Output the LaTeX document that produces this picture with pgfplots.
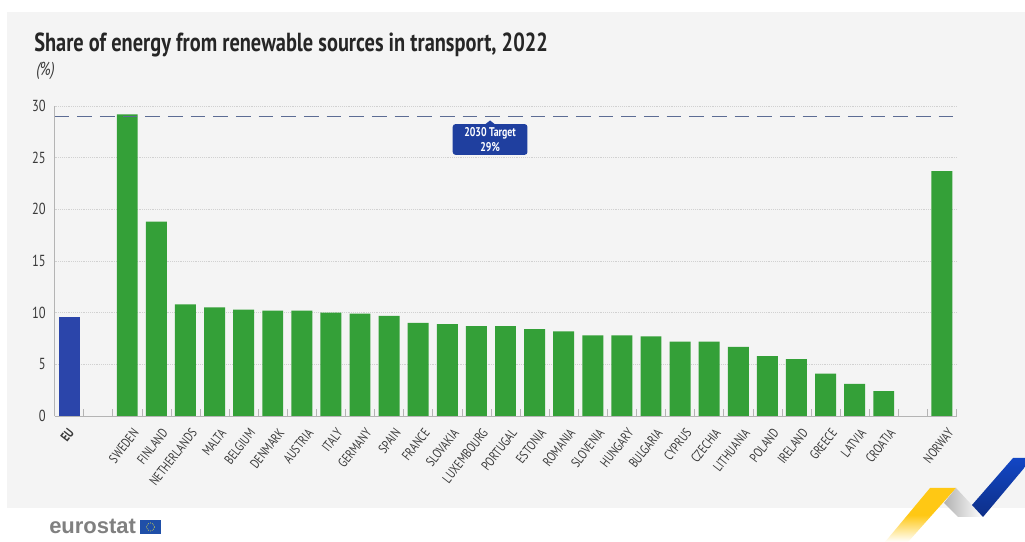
\documentclass[border=0pt]{standalone}
\usepackage{fontspec}
\setmainfont[FakeStretch=0.78]{PT Sans}
\newfontfamily\logofont{Liberation Sans}
\usepackage{pgfplots}
\pgfplotsset{compat=1.18}
\usetikzlibrary{calc}
\definecolor{panel}{HTML}{F4F4F4}
\definecolor{bargreen}{HTML}{34A038}
\definecolor{barblue}{HTML}{2B45AA}
\definecolor{calloutblue}{HTML}{1F3F9F}
\definecolor{targetline}{HTML}{5C6C94}
\definecolor{txt}{HTML}{3A3A3A}
\definecolor{axisgrey}{HTML}{B4B4B4}
\definecolor{ribyellow}{HTML}{FFC814}
\definecolor{ribbright}{HTML}{1246C4}
\definecolor{ribdark}{HTML}{0E2F88}
\definecolor{flagblue}{HTML}{1F4FA8}

\pgfplotstableread{
x v
2 29.2
3 18.8
4 10.8
5 10.5
6 10.3
7 10.2
8 10.2
9 10.0
10 9.9
11 9.7
12 9.0
13 8.9
14 8.7
15 8.7
16 8.4
17 8.2
18 7.8
19 7.8
20 7.7
21 7.2
22 7.2
23 6.7
24 5.8
25 5.5
26 4.1
27 3.1
28 2.4
30 23.7
}\countries

\begin{document}
\begin{tikzpicture}
% page in reference pixels, y down
\begin{scope}[x=0.75pt,y=-0.75pt,yshift=406.5pt]
\useasboundingbox (0,0) rectangle (1025,542);
\fill[white] (0,0) rectangle (1025,542);
\fill[panel] (7,12) rectangle (1025,508);
\node[anchor=base west,inner sep=0pt,text=black!85,font=\fontsize{19.6}{19.6}\selectfont\bfseries] at (34,52) {Share of energy from renewable sources in transport, 2022};
\node[anchor=base west,inner sep=0pt,text=txt,font=\fontsize{14}{14}\selectfont\itshape] at (36,76) {(\%)};
% ribbons
\shade[bottom color=white,top color=ribyellow,middle color=ribyellow] (885,542) -- (930,488) -- (956,488) -- (908,542) -- cycle;
\shade[left color=gray!60,right color=white] (944,503) -- (956,488) -- (983,517) -- (958,517) -- cycle;
\shade[bottom color=ribdark,top color=ribbright] (972,505) -- (1013,458) -- (1025,458) -- (1025,467) -- (983,517) -- cycle;
% logo
\node[anchor=base west,inner sep=0pt,text=black!50,font=\fontsize{16.5}{16.5}\logofont\bfseries] at (49,534) {eurostat};
\fill[flagblue] (140,520) rectangle (161,534);
\draw[yellow!80!white,densely dotted,line width=0.5pt] (150.5,527) circle (4);
\end{scope}

\begin{axis}[
  at={(40.875pt,94.5pt)}, anchor=south west,
  scale only axis,
  width=676.5pt, height=232.5pt,
  xmin=-0.5, xmax=30.5,
  ymin=0, ymax=30,
  axis y line=left, axis x line=bottom,
  axis line style={axisgrey,-},
  ytick={0,5,10,15,20,25,30},
  ymajorgrids,
  major grid style={black!18,densely dotted,line width=0.4pt},
  ymajorticks=true,
  ytick style={draw=none},
  xtick={0,2,3,4,5,6,7,8,9,10,11,12,13,14,15,16,17,18,19,20,21,22,23,24,25,26,27,28,30},
  xticklabels={\raisebox{7.9pt}{\bfseries EU}\hspace*{3.1pt},SWEDEN,FINLAND,NETHERLANDS,MALTA,BELGIUM,DENMARK,AUSTRIA,ITALY,GERMANY,SPAIN,FRANCE,SLOVAKIA,LUXEMBOURG,PORTUGAL,ESTONIA,ROMANIA,SLOVENIA,HUNGARY,BULGARIA,CYPRUS,CZECHIA,LITHUANIA,POLAND,IRELAND,GREECE,LATVIA,CROATIA,NORWAY},
  major x tick style={draw=none},
  minor xtick={-0.5,0.5,...,30.5},
  minor tick length=5pt,
  xtick align=inside,
  minor x tick style={axisgrey,line width=0.4pt},
  tick label style={text=txt,font=\fontsize{12}{12}\selectfont},
  xticklabel style={xshift=8.6pt,yshift=-8pt,rotate=52,anchor=east,font=\fontsize{10}{10}\selectfont},
  yticklabel style={xshift=-1pt},
  /pgf/number format/assume math mode=true,
  axis on top=false,
  clip=false,
]
\addplot[ybar,bar width=0.72,fill=barblue,draw=none,bar shift=0pt] coordinates {(0,9.6)};
\addplot[ybar,bar width=0.72,fill=bargreen,draw=none,bar shift=0pt] table[x=x,y=v] {\countries};
\addplot[targetline,line width=1pt,dash pattern=on 11pt off 6pt] coordinates {(-0.5,29) (30.6,29)};
\fill[calloutblue] (axis cs:14.47,28.6) -- (axis cs:14.2,28.0) -- (axis cs:14.74,28.0) -- cycle;
\node[fill=calloutblue,rounded corners=2pt,text=white,align=center,font=\fontsize{9.5}{11}\selectfont\bfseries,minimum width=56pt,minimum height=23pt,inner sep=0pt] at (axis cs:14.47,26.76) {2030 Target\\29\%};
\end{axis}
\end{tikzpicture}
\end{document}
